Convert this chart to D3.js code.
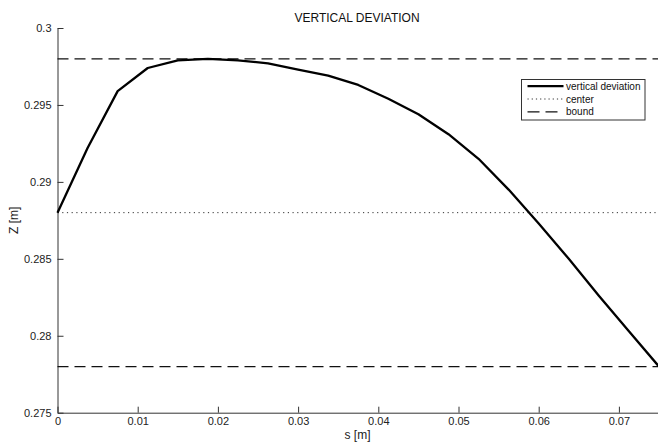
<!DOCTYPE html>
<html>
<head>
<meta charset="utf-8">
<script src="https://cdn.jsdelivr.net/npm/d3@7"></script>
<style>
  body { margin: 0; background: #fff; }
  svg { display: block; font-family: "Liberation Sans", Arial, sans-serif; }
  .axis path, .axis line { stroke: #333; }
  .axis text { fill: #222; font-size: 11px; }
</style>
</head>
<body>
<div id="chart"></div>
<script>
const sValues = [0, 0.00375, 0.0075, 0.01125, 0.015, 0.01875, 0.0225, 0.02625, 0.03, 0.03375,
  0.0375, 0.04125, 0.045, 0.04875, 0.0525, 0.05625, 0.06, 0.06375, 0.0675, 0.07125, 0.075];
const zValues = [0.288, 0.2922, 0.2959, 0.2974, 0.2979, 0.2980, 0.2979, 0.2977, 0.2973, 0.2969,
  0.2963, 0.2954, 0.2944, 0.2931, 0.2915, 0.2895, 0.2873, 0.2850, 0.2826, 0.2803, 0.2780];
const centerValue = 0.288;
const boundValues = [0.298, 0.278];
const xTicks = [0, 0.01, 0.02, 0.03, 0.04, 0.05, 0.06, 0.07];
const yTicks = [0.275, 0.28, 0.285, 0.29, 0.295, 0.3];
const legendLabels = ["vertical deviation", "center", "bound"];

const width = 658;
const height = 442;

const x = d3.scaleLinear().domain([0, 0.075]).range([57.5, 659]);
const y = d3.scaleLinear().domain([0.275, 0.3]).range([412.7, 28]);

const svg = d3.select("#chart")
  .append("svg")
  .attr("width", width)
  .attr("height", height);

const fmt = d3.format("~g");

svg.append("g")
  .attr("class", "axis")
  .attr("transform", `translate(0,${y(0.275)})`)
  .call(d3.axisBottom(x).tickValues(xTicks).tickFormat(fmt).tickSize(-6).tickSizeOuter(0).tickPadding(5));

svg.append("g")
  .attr("class", "axis")
  .attr("transform", `translate(${x(0)},0)`)
  .call(d3.axisLeft(y).tickValues(yTicks).tickFormat(fmt).tickSize(-6).tickSizeOuter(0).tickPadding(6));

// reference lines
svg.selectAll(".bound")
  .data(boundValues)
  .enter().append("line")
  .attr("class", "bound")
  .attr("x1", x(0)).attr("x2", x(0.075))
  .attr("y1", d => y(d)).attr("y2", d => y(d))
  .attr("stroke", "#111")
  .attr("stroke-width", 1.2)
  .attr("stroke-dasharray", "11,6");

svg.append("line")
  .attr("x1", x(0)).attr("x2", x(0.075))
  .attr("y1", y(centerValue)).attr("y2", y(centerValue))
  .attr("stroke", "#333")
  .attr("stroke-width", 1)
  .attr("stroke-dasharray", "1.2,3.5");

const line = d3.line()
  .x((d, i) => x(sValues[i]))
  .y(d => y(d));

svg.append("path")
  .datum(zValues)
  .attr("fill", "none")
  .attr("stroke", "#000")
  .attr("stroke-width", 2.3)
  .attr("stroke-linejoin", "round")
  .attr("d", line);

// titles
svg.append("text")
  .attr("x", 357).attr("y", 21.5)
  .attr("text-anchor", "middle")
  .style("font-size", "12px").attr("fill", "#111")
  .text("VERTICAL DEVIATION");

svg.append("text")
  .attr("x", 357.5).attr("y", 438.5)
  .attr("text-anchor", "middle")
  .style("font-size", "12px").attr("fill", "#222")
  .text("s [m]");

svg.append("text")
  .attr("transform", `translate(17.5,${(y(0.275) + y(0.3)) / 2}) rotate(-90)`)
  .attr("text-anchor", "middle")
  .style("font-size", "12px").attr("fill", "#222")
  .text("Z [m]");

// legend
const legend = svg.append("g").attr("transform", "translate(521.5,79.5)");
legend.append("rect")
  .attr("width", 123.5).attr("height", 40.5)
  .attr("fill", "#fff").attr("stroke", "#333").attr("stroke-width", 1);

const legendStyles = [
  { w: 2.3, dash: null, color: "#000" },
  { w: 1, dash: "1.2,3", color: "#333" },
  { w: 1.2, dash: "12,6", color: "#111" }
];

const rows = legend.selectAll(".row")
  .data(legendLabels)
  .enter().append("g")
  .attr("transform", (d, i) => `translate(0,${6.7 + i * 12.8})`);

rows.append("line")
  .attr("x1", 6).attr("x2", 42)
  .attr("stroke", (d, i) => legendStyles[i].color)
  .attr("stroke-width", (d, i) => legendStyles[i].w)
  .attr("stroke-dasharray", (d, i) => legendStyles[i].dash);

rows.append("text")
  .attr("x", 44.5).attr("dy", "0.35em")
  .style("font-size", "10px").attr("fill", "#111")
  .text(d => d);
</script>
</body>
</html>
